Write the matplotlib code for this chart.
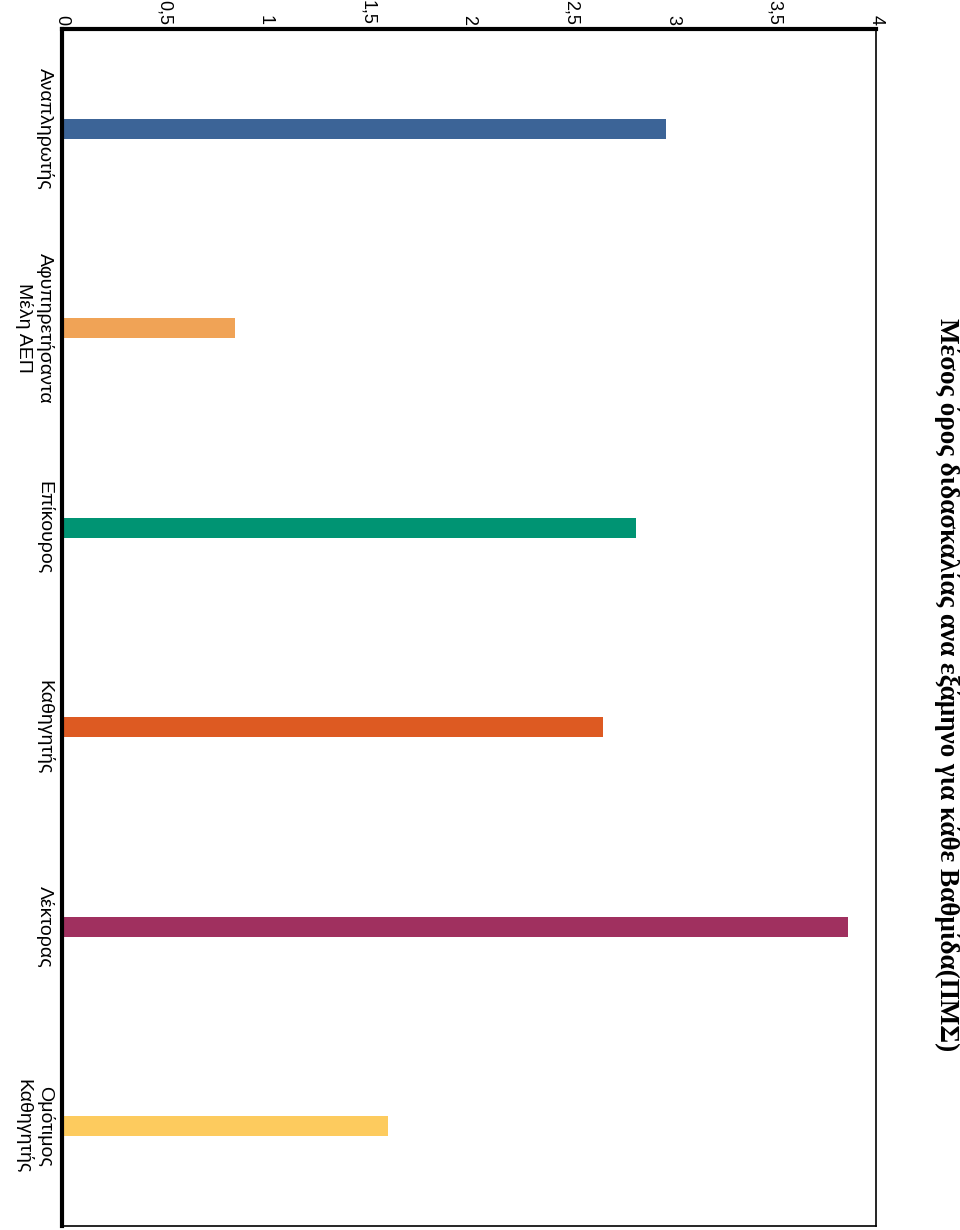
import matplotlib
matplotlib.use("Agg")
import matplotlib.pyplot as plt

categories = ["Αναπληρωτής", "Αφυπηρετήσαντα\nΜέλη ΑΕΠ", "Επίκουρος",
              "Καθηγητής", "Λέκτορας", "Ομότιμος\nΚαθηγητής"]
values = [2.97, 0.85, 2.82, 2.66, 3.86, 1.6]
colors = ["#3C6497", "#F0A356", "#009473", "#DD5A22", "#A0305F", "#FDCB5E"]
ticks = [0, 0.5, 1, 1.5, 2, 2.5, 3, 3.5, 4]
tick_labels = ["0", "0,5", "1", "1,5", "2", "2,5", "3", "3,5", "4"]
title = "Μέσος όρος διδασκαλίας ανα εξάμηνο για κάθε Βαθμίδα(ΠΜΣ)"

W, H = 960, 1230
fig = plt.figure(figsize=(W / 100, H / 100), dpi=100)
left, right, top, bottom = 62, 876, 29, 1226
ax = fig.add_axes([left / W, 1 - bottom / H, (right - left) / W, (bottom - top) / H])

pos = list(range(len(categories)))
ax.barh(pos, values, height=0.1, color=colors)
ax.set_xlim(0, 4)
ax.set_ylim(len(categories) - 0.5, -0.5)

ax.xaxis.tick_top()
ax.set_xticks(ticks)
ax.set_xticklabels(tick_labels, rotation=-90, family="Liberation Sans", fontsize=13)
ax.tick_params(axis="x", length=0, pad=3)

ax.set_yticks(pos)
ax.set_yticklabels(categories, rotation=-90, family="Liberation Sans", fontsize=14,
                   va="center", ha="right", multialignment="center")
ax.tick_params(axis="y", length=0, pad=6)

for s in ["top", "left"]:
    ax.spines[s].set_linewidth(3)
for s in ["right", "bottom"]:
    ax.spines[s].set_linewidth(1.2)
for s in ax.spines.values():
    s.set_color("black")

fig.text(947 / W, 1 - 685 / H, title, rotation=-90, family="Liberation Serif",
         fontweight="bold", fontsize=19.5, ha="center", va="center")

fig.savefig("out.png", dpi=100, facecolor="white")
